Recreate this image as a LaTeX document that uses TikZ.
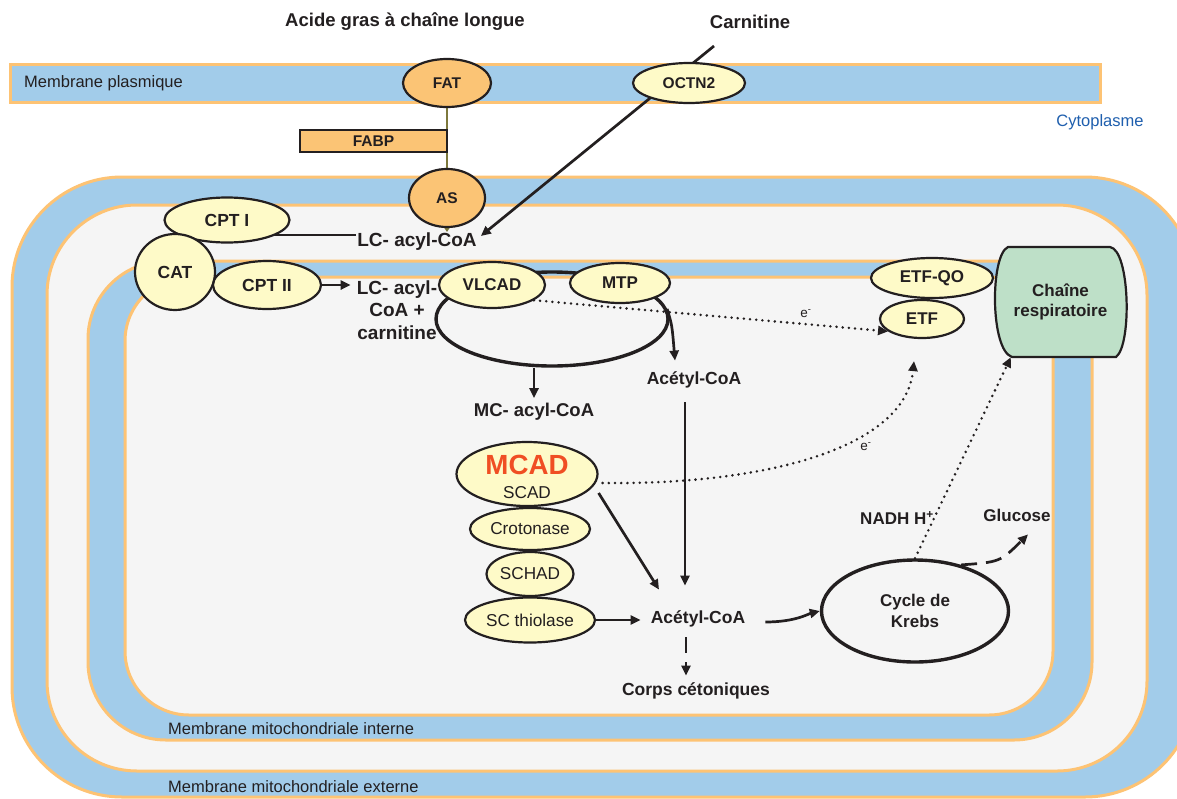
\documentclass[tikz,border=0pt]{standalone}
\usepackage{fontspec}
\setmainfont{Liberation Sans}
\usetikzlibrary{shapes.geometric,arrows.meta,calc}
\definecolor{memblue}{RGB}{162,204,234}
\definecolor{memorange}{RGB}{253,195,116}
\definecolor{orng}{RGB}{251,196,117}
\definecolor{matrixgray}{RGB}{245,245,245}
\definecolor{yell}{RGB}{254,250,200}
\definecolor{chaingreen}{RGB}{190,224,200}
\definecolor{mcadred}{RGB}{240,78,35}
\definecolor{cytoblue}{RGB}{31,95,174}
\definecolor{ink}{RGB}{35,31,32}
\definecolor{olv}{RGB}{125,120,60}
\newcommand{\ftitle}{\bfseries\fontsize{18.5}{22}\selectfont}
\newcommand{\fbig}{\bfseries\fontsize{19}{22.5}\selectfont}
\newcommand{\fmid}{\bfseries\fontsize{17.5}{21}\selectfont}
\newcommand{\fnode}{\bfseries\fontsize{17}{20.5}\selectfont}
\newcommand{\fsmall}{\bfseries\fontsize{15.5}{18}\selectfont}
\newcommand{\freg}{\mdseries\fontsize{17.2}{20}\selectfont}
\newcommand{\flab}{\mdseries\fontsize{16.5}{19}\selectfont}
\newcommand{\fe}{\mdseries\fontsize{13.5}{15}\selectfont}
\pgfdeclarelayer{bg}
\pgfdeclarelayer{mid}
\pgfsetlayers{bg,mid,main}
\tikzset{
  memb/.style={fill=memblue, draw=memorange, line width=3pt},
  space/.style={fill=matrixgray, draw=memorange, line width=3pt},
  ell/.style={ellipse, draw=ink, line width=2.2pt, fill=yell, inner sep=0pt, text=ink, font=\fnode},
  oell/.style={ell, fill=orng, font=\fsmall},
  txt/.style={inner sep=1pt, text=ink, font=\fmid},
  memlab/.style={inner sep=0pt, text=ink, font=\flab},
  conn/.style={draw=ink, line width=2.7pt},
  arr/.style={conn, -{Triangle[length=10pt,width=9pt]}},
  dasharr/.style={arr, dash pattern=on 16pt off 9pt},
  dotarr/.style={draw=ink, line width=2.8pt, line cap=round, dash pattern=on 0pt off 6.2pt, -{Triangle[length=10pt,width=9pt]}},
  oline/.style={draw=olv, line width=2.5pt},
}
\begin{document}
\begin{tikzpicture}[x=1pt,y=-1pt]
\useasboundingbox (0,0) rectangle (1177,798);
% ---------- membranes ----------
\begin{pgfonlayer}{bg}
\fill[white] (0,0) rectangle (1177,798);
\clip (0,0) rectangle (1177,798);
\path[memb, rounded corners=110pt] (12,177) rectangle (1195,797);
\path[space, rounded corners=90pt] (47,205) rectangle (1147,771);
\path[memb, rounded corners=78pt] (88,261) rectangle (1092,740);
\path[space, rounded corners=64pt] (125,277) rectangle (1053,715);
\path[memb] (10,64) rectangle (1100,102);
\end{pgfonlayer}

% ---------- labels ----------
\node[inner sep=1pt, text=ink, font=\ftitle] (acide) at (405,22) {Acide gras à chaîne longue};
\node[inner sep=1pt, text=ink, font=\ftitle] (carn) at (750,22) {Carnitine};
\node[memlab, anchor=west] (mplab) at (24,83) {Membrane plasmique};
\node[memlab, text=cytoblue] (cyto) at (1100,122) {Cytoplasme};
\node[memlab, anchor=west] (mint) at (168,729) {Membrane mitochondriale interne};
\node[memlab, anchor=west] (mext) at (168,787) {Membrane mitochondriale externe};

% ---------- transporters ----------
\node[oell, minimum width=88pt, minimum height=48pt] (fat) at (447,83) {FAT};
\node[ell, font=\fsmall, minimum width=112pt, minimum height=40pt] (octn) at (689,83) {OCTN2};
\node[rectangle, draw=ink, line width=1.8pt, fill=orng, inner sep=0pt, text=ink, font=\fsmall,
      minimum width=147pt, minimum height=22pt] (fabp) at (373.5,141) {FABP};
\node[oell, minimum width=76pt, minimum height=58pt] (as) at (447,198) {AS};

\node[ell, font=\fmid, minimum width=125pt, minimum height=45pt] (cpt1) at (227,220) {CPT I};
\node[ell, font=\fmid, minimum width=80pt, minimum height=76pt] (cat) at (175,272) {CAT};
\node[ell, font=\fmid, minimum width=108pt, minimum height=48pt] (cpt2) at (267,285) {CPT II};

\node[txt, font=\fbig] (lc) at (417,242) {LC- acyl-CoA};
\node[txt, font=\fbig, align=center] (lcc) at (397,310) {LC- acyl-\\CoA +\\carnitine};

% ---------- beta-oxidation loop ----------
\begin{pgfonlayer}{mid}
\node[ellipse, draw=ink, line width=3.4pt, minimum width=232pt, minimum height=94pt, inner sep=0pt] (loop) at (552,319) {};
\end{pgfonlayer}
\node[ell, minimum width=106pt, minimum height=46pt] (vlcad) at (492,285) {VLCAD};
\node[ell, minimum width=100pt, minimum height=40pt] (mtp) at (620,283) {MTP};

\node[txt, font=\bfseries\fontsize{18.5}{22}\selectfont] (mc) at (534,412) {MC- acyl-CoA};
\node[txt] (acet1) at (694,380) {Acétyl-CoA};
\node[txt] (acet2) at (698,619) {Acétyl-CoA};
\node[txt] (corps) at (696,691) {Corps cétoniques};

\node[ell, minimum width=141pt, minimum height=64pt] (mcad) at (527,474) {};
\node[inner sep=0pt, text=mcadred, font=\bfseries\fontsize{27.7}{30}\selectfont] (mcadt) at (527,465) {MCAD};
\node[inner sep=0pt, text=ink, font=\freg] (scad) at (527,493) {SCAD};
\node[ell, font=\freg, minimum width=120pt, minimum height=42pt] (crot) at (530,529) {Crotonase};
\node[ell, font=\freg, minimum width=87pt, minimum height=44pt] (schad) at (530,574) {SCHAD};
\node[ell, font=\freg, minimum width=130pt, minimum height=45pt] (scth) at (530,620) {SC thiolase};

\node[ellipse, draw=ink, line width=3.4pt, inner sep=0pt, align=center, text=ink, font=\bfseries\fontsize{17}{21}\selectfont,
      minimum width=187pt, minimum height=102pt] (krebs) at (915,611) {Cycle de\\Krebs};
\node[txt, font=\fnode] (glucose) at (1017,515) {Glucose};
\node[txt, font=\fnode] (nadh) at (897,518) {NADH H\textsuperscript{+}};

\node[ell, minimum width=122pt, minimum height=40pt] (etfqo) at (932,278) {ETF-QO};
\node[ell, minimum width=84pt, minimum height=38pt] (etf) at (922,319) {ETF};

\path[draw=ink, line width=2.2pt, fill=chaingreen]
  (1008,247) -- (1110,247) .. controls (1130,250) and (1132,345) .. (1116,357)
  -- (1012,357) .. controls (990,350) and (990,255) .. (1008,247) -- cycle;
\node[inner sep=0pt, text=ink, align=center, font=\bfseries\fontsize{17}{20}\selectfont,
      minimum width=135pt, minimum height=110pt] (chain) at (1060.5,302) {Chaîne\\respiratoire};

\node[inner sep=0pt, text=ink, font=\fe] (e1) at (806,314) {e\textsuperscript{-}};
\node[inner sep=0pt, text=ink, font=\fe] (e2) at (866,447) {e\textsuperscript{-}};

% ---------- connectors ----------
\begin{pgfonlayer}{mid}
\coordinate (lcy) at (350,235);
\draw[arr] ([xshift=-36pt,yshift=-16pt]carn.south) -- ($(lc.east)+(3,-6)$);
\draw[oline] (fat.south) -- (as.north);
\draw[oline, -{Triangle[length=7pt,width=9pt]}] (as.south) -- (as.south |- lc.north);
\draw[conn] (cpt1.center |- lcy) -- (lc.west |- lcy);
\draw[arr] (cpt2.east) -- ($(cpt2.east -| lcc.west)+(-5,0)$);
\draw[arr] (loop.5) .. controls (672,325) .. ($(acet1.north)+(-19,-10)$);
\draw[arr] (mc.north |- loop.south) -- ($(mc.north)+(0,-4)$);
\draw[arr] ($(acet1.south)+(-9,13)$) -- ($(acet2.north)+(-13,-24)$);
\draw[arr] ($(mcad.east)+(0,19)$) -- ($(acet2.north)+(-39,-20)$);
\draw[arr] (scth.east) -- ($(scth.east -| acet2.west)+(-9,0)$);
\draw[dasharr] ($(acet2.south)+(-12,9)$) -- ($(corps.north)+(-10,-6)$);
\draw[arr] ($(acet2.east)+(19,3)$) .. controls (795,622) and (808,614) .. (krebs.west);
\draw[dasharr] (krebs.45) .. controls (1000,562) .. ($(glucose.south)+(11,12)$);
\draw[dotarr] (krebs.north) -- ($(chain.south west)+(18,0)$);
\draw[dotarr] ($(mcad.east)+(4,9)$) .. controls (760,485) and (905,450) .. ($(etf.south)+(-8,22)$);
\draw[dotarr] (vlcad.-20) -- (etf.200);
\end{pgfonlayer}
\end{tikzpicture}
\end{document}
